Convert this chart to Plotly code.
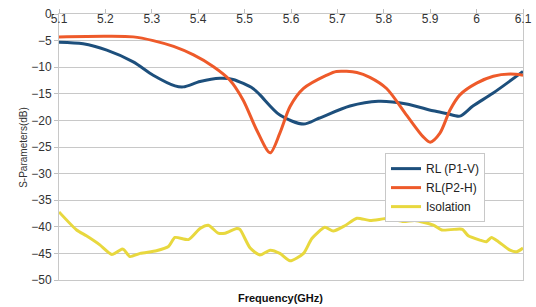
import plotly.graph_objects as go

# RL (P1-V)
f_p1 = [5.10, 5.152, 5.203, 5.26, 5.303, 5.35, 5.368, 5.404, 5.447, 5.475, 5.518, 5.533, 5.576,
        5.627, 5.66, 5.727, 5.788, 5.849, 5.906, 5.935, 5.964, 5.992, 6.035, 6.10]
s_p1 = [-5.3, -5.6, -6.8, -9.0, -11.5, -13.5, -13.7, -12.7, -12.1, -12.3, -14.0, -15.2, -19.0,
        -20.7, -19.6, -17.3, -16.4, -16.9, -18.2, -18.7, -19.2, -17.3, -14.9, -10.8]

# RL (P2-H)
f_p2 = [5.10, 5.20, 5.26, 5.303, 5.347, 5.39, 5.433, 5.468, 5.497, 5.526, 5.555, 5.576, 5.598,
        5.627, 5.677, 5.698, 5.742, 5.770, 5.806, 5.849, 5.885, 5.900, 5.921, 5.943, 5.964,
        6.00, 6.036, 6.072, 6.10]
s_p2 = [-4.3, -4.2, -4.3, -5.0, -6.1, -7.7, -9.9, -12.4, -16.2, -21.8, -26.1, -22.4, -17.4,
        -14.0, -11.5, -10.8, -11.0, -11.9, -14.0, -19.0, -23.1, -24.1, -22.4, -18.0, -15.2,
        -13.0, -11.7, -11.3, -11.5]

# Isolation
f_iso = [5.10, 5.138, 5.159, 5.188, 5.214, 5.235, 5.24, 5.253, 5.275, 5.31, 5.336, 5.35, 5.379,
         5.404, 5.422, 5.443, 5.458, 5.483, 5.49, 5.512, 5.533, 5.555, 5.576, 5.598, 5.627,
         5.645, 5.673, 5.691, 5.716, 5.742, 5.770, 5.813, 5.842, 5.867, 5.907, 5.925, 5.964,
         5.97, 5.982, 6.007, 6.021, 6.032, 6.047, 6.072, 6.086, 6.10]
s_iso = [-37.2, -40.6, -41.7, -43.4, -45.2, -44.2, -44.3, -45.6, -45.0, -44.5, -43.7, -42.0, -42.4,
         -40.3, -39.7, -41.2, -41.2, -40.3, -40.5, -44.0, -45.3, -44.4, -45.0, -46.4, -45.0,
         -42.2, -40.1, -40.8, -39.8, -38.4, -38.8, -38.4, -39.0, -38.8, -39.7, -40.6, -40.4,
         -40.5, -41.7, -42.5, -42.8, -42.0, -42.8, -44.4, -44.7, -44.0]

x_ticks = [5.1, 5.2, 5.3, 5.4, 5.5, 5.6, 5.7, 5.8, 5.9, 6.0, 6.1]
x_tick_labels = ["5.1", "5.2", "5.3", "5.4", "5.5", "5.6", "5.7", "5.8", "5.9", "6", "6.1"]
y_ticks = [0, -5, -10, -15, -20, -25, -30, -35, -40, -45, -50]

fig = go.Figure()
fig.add_trace(go.Scatter(x=f_p1, y=s_p1, mode="lines", name="RL (P1-V)",
                         line=dict(color="#1d4f7c", width=3, shape="spline", smoothing=0.8)))
fig.add_trace(go.Scatter(x=f_p2, y=s_p2, mode="lines", name="RL(P2-H)",
                         line=dict(color="#ee5a2a", width=3, shape="spline", smoothing=0.8)))
fig.add_trace(go.Scatter(x=f_iso, y=s_iso, mode="lines", name="Isolation",
                         line=dict(color="#e8d83e", width=3, shape="spline", smoothing=0.6)))

fig.update_layout(
    width=536, height=307,
    margin=dict(l=59, r=13, t=14, b=27),
    paper_bgcolor="white", plot_bgcolor="white",
    font=dict(family="Liberation Sans, Arial, sans-serif", size=12, color="#333333"),
    showlegend=True,
    legend=dict(x=0.7026, y=0.477, xanchor="left", yanchor="top",
                bgcolor="white", bordercolor="#c8c8c8", borderwidth=1,
                font=dict(size=12, color="#222222"), itemwidth=30,
                tracegroupgap=0),
)
fig.update_xaxes(range=[5.1, 6.1], side="top", tickvals=x_ticks, ticktext=x_tick_labels,
                 ticklabelposition="inside", ticklabeloverflow="allow",
                 ticks="outside", ticklen=4, tickcolor="#c0c0c0", automargin=False,
                 showgrid=False, showline=True, linecolor="#c8c8c8", linewidth=1, mirror=True,
                 zeroline=False, tickfont=dict(size=12, color="#333333"))
fig.update_yaxes(range=[-50, 0], tickvals=y_ticks, ticks="outside", ticklen=4, tickcolor="#c0c0c0",
                 automargin=False, ticklabeloverflow="allow",
                 showgrid=True, gridcolor="#c8c8c8", gridwidth=1,
                 showline=True, linecolor="#c8c8c8", linewidth=1, mirror=True,
                 zeroline=False, tickfont=dict(size=12, color="#333333"))

fig.add_annotation(text="S-Parameters(dB)", xref="paper", yref="paper", x=-0.078, y=0.5,
                   xanchor="center", yanchor="middle", textangle=-90, showarrow=False,
                   font=dict(size=10, color="#333333"))
fig.add_annotation(text="<b>Frequency(GHz)</b>", xref="paper", yref="paper", x=0.478, y=-0.066,
                   xanchor="center", yanchor="middle", showarrow=False,
                   font=dict(size=11, color="#111111"))

fig.write_html("out.html", config={"displayModeBar": False},
               post_script="document.body.style.margin='0px';document.body.style.padding='0px';")
